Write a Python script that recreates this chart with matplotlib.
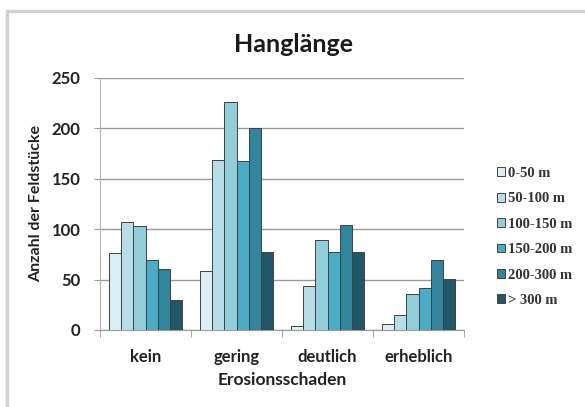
import matplotlib.pyplot as plt
from matplotlib.patches import Rectangle
import numpy as np

plt.rcParams['font.family'] = ['Lato', 'DejaVu Sans']

kategorien = ['kein', 'gering', 'deutlich', 'erheblich']
klassen = ['0-50 m', '50-100 m', '100-150 m', '150-200 m', '200-300 m', '> 300 m']
werte = [
    [76, 59, 4, 6],
    [107, 169, 44, 15],
    [103, 226, 89, 36],
    [69, 168, 77, 42],
    [61, 200, 104, 69],
    [30, 77, 77, 51],
]
farben = ['#dbeef4', '#b7dde8', '#92cddc', '#4bacc6', '#31859c', '#205867']

fig = plt.figure(figsize=(5.85, 4.07), dpi=100)
fig.patch.set_facecolor('white')
# grauer Rahmen oben und links (läuft rechts/unten aus dem Bild)
fig.patches.append(Rectangle((7/585, -20/407), 600/585, 416/407, transform=fig.transFigure,
                             fill=False, edgecolor='#d2d2d2', linewidth=2.5))

ax = fig.add_axes([100/585, 1 - 330/407, 364/585, 252/407])

x = np.arange(len(kategorien))
n = len(klassen)
breite = 0.81 / n
for i in range(n):
    ax.bar(x - 0.405 + breite * (i + 0.5), werte[i], breite, color=farben[i],
           edgecolor='#404040', linewidth=0.7, label=klassen[i], zorder=3)

ax.set_xlim(-0.5, len(kategorien) - 0.5)
ax.set_ylim(0, 250)
ax.set_yticks(range(0, 251, 50))
ax.yaxis.grid(True, color='#999999', linewidth=1.0, zorder=0)
ax.set_xticks(x)
ax.set_xticklabels(kategorien)
ax.set_xticks(np.arange(-0.5, len(kategorien)), minor=True)
ax.tick_params(axis='x', which='major', length=0, pad=14, labelsize=12, colors='#222222')
ax.tick_params(axis='x', which='minor', length=5, color='#999999', direction='out')
ax.tick_params(axis='y', length=4, color='#999999', pad=10, labelsize=12, labelcolor='#222222')
for lbl in ax.get_xticklabels() + ax.get_yticklabels():
    lbl.set_fontweight('bold')
for s in ['top', 'right']:
    ax.spines[s].set_visible(False)
ax.spines['bottom'].set_color('#999999')
ax.spines['left'].set_color('#b4b4b4')

ax.set_xlabel('Erosionsschaden', fontsize=12.5, fontweight='bold', color='#222222', labelpad=5)
ax.set_ylabel('Anzahl der Feldstücke', fontsize=11.5, fontweight='bold', color='#222222', labelpad=6)
fig.text(294/585, 1 - 44/407, 'Hanglänge', ha='center', va='center',
         fontsize=18, fontweight='bold', color='#1a1a1a')

leg = ax.legend(loc='center left', bbox_to_anchor=(484/585, 1 - 237/407),
                bbox_transform=fig.transFigure, frameon=False,
                prop={'family': 'Liberation Serif', 'weight': 'bold', 'size': 10.5},
                handlelength=0.55, handleheight=0.55, handletextpad=0.2, labelspacing=0.85)
for t in leg.get_texts():
    t.set_color('#333333')

fig.savefig('out.png', dpi=100)
